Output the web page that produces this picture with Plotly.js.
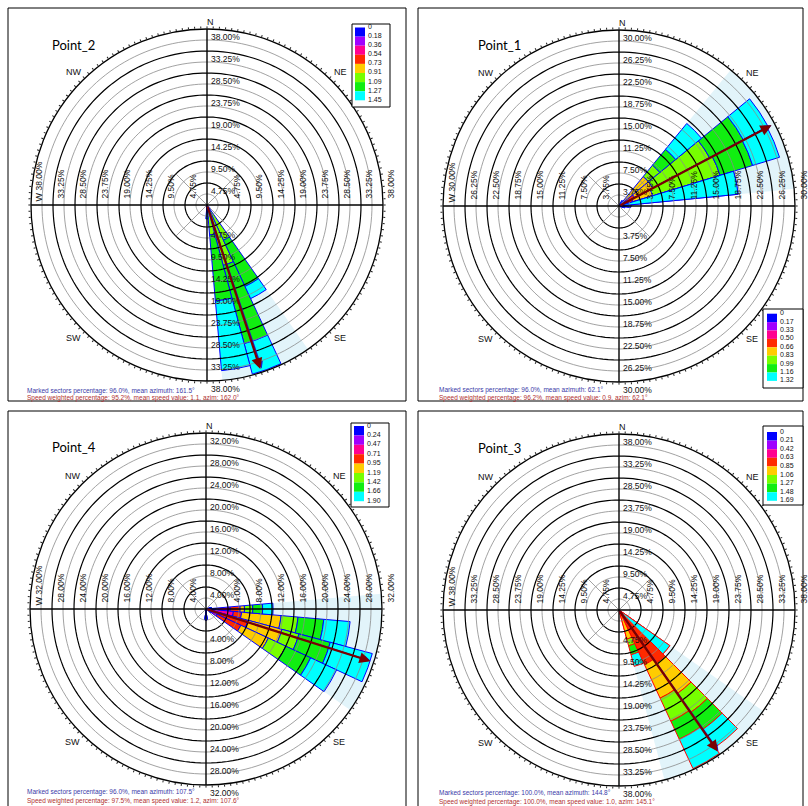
<!DOCTYPE html>
<html><head><meta charset="utf-8">
<script src="https://cdn.plot.ly/plotly-3.0.1.min.js"></script>
<style>html,body{margin:0;padding:0;background:#fff}#chart{width:808px;height:806px}</style>
</head><body><div id="chart"></div>
<script>
// ================= DATA =================
const PANEL_NAMES = ['Point_2', 'Point_1', 'Point_4', 'Point_3'];
const CLASS_COLORS = ['#0000ff', '#a000ff', '#ff0090', '#ff2a00', '#ffcc00', '#77ff00', '#11ee11', '#00ffff'];

// speed class limits (legend labels)
const breaks_P2 = ['0', '0.18', '0.36', '0.54', '0.73', '0.91', '1.09', '1.27', '1.45'];
const breaks_P1 = ['0', '0.17', '0.33', '0.50', '0.66', '0.83', '0.99', '1.16', '1.32'];
const breaks_P4 = ['0', '0.24', '0.47', '0.71', '0.95', '1.19', '1.42', '1.66', '1.90'];
const breaks_P3 = ['0', '0.21', '0.42', '0.63', '0.85', '1.06', '1.27', '1.48', '1.69'];

// radial ring ticks (%)
const rings_P2 = [4.75, 9.50, 14.25, 19.00, 23.75, 28.50, 33.25, 38.00];
const rings_P1 = [3.75, 7.50, 11.25, 15.00, 18.75, 22.50, 26.25, 30.00];
const rings_P4 = [4.00, 8.00, 12.00, 16.00, 20.00, 24.00, 28.00, 32.00];
const rings_P3 = [4.75, 9.50, 14.25, 19.00, 23.75, 28.50, 33.25, 38.00];

// sector centres (deg), width, marked sectors
const sectors_P2 = [140, 150, 160, 170, 180];
const width_P2 = 10;
const marked_P2 = [150, 160, 170];
const sectors_P1 = [33.75, 45, 56.25, 67.5, 78.75, 90, 101.25];
const width_P1 = 11.25;
const marked_P1 = [45, 56.25, 67.5, 78.75];
const sectors_P4 = [80, 90, 100, 110, 120, 130, 180];
const width_P4 = 10;
const marked_P4 = [90, 100, 110, 120];
const sectors_P3 = [130, 140, 150, 160];
const width_P3 = 10;
const marked_P3 = [130, 140, 150, 160];

// frequency (%) per speed class (rows, low -> high) per sector (columns)
const freq_P2 = [
  [0, 0, 0, 0, 0.5],
  [0, 0, 0, 0, 0],
  [0, 0, 0, 0, 0],
  [0, 0.2, 0.3, 0, 0],
  [0, 1.2, 1.2, 0.5, 0],
  [0.3, 7.0, 12.0, 6.0, 1.0],
  [0.4, 11.0, 17.5, 14.3, 1.0],
  [0.3, 2.9, 6.8, 15.1, 0.5]
];
const freq_P1 = [
  [0, 0, 0, 0, 0, 0.5, 0],
  [0, 0, 0, 0, 0, 0.5, 0],
  [0, 0, 0.3, 0.3, 0, 0, 0],
  [0.3, 1.0, 2.7, 2.2, 0.6, 0, 0.3],
  [0.7, 5.5, 3.5, 3.5, 6.0, 1.0, 0.7],
  [0, 2.5, 11.0, 12.0, 8.5, 0, 0],
  [0, 3.5, 6.5, 5.8, 5.3, 0, 0],
  [0, 5.7, 4.8, 4.8, 0, 0, 0]
];
const freq_P4 = [
  [0, 0.8, 0.5, 0.6, 0.5, 0, 1.2],
  [0, 1.0, 1.0, 0.8, 0.7, 0, 0.8],
  [0.5, 2.6, 3.5, 1.2, 1.0, 0, 0],
  [0.5, 1.8, 1.5, 5.3, 4.8, 0.5, 0],
  [0, 0.8, 7.2, 6.4, 5.5, 0.5, 0],
  [0, 1.5, 3.1, 3.2, 3.5, 0, 0],
  [0, 1.8, 4.7, 5.9, 5.0, 0, 0],
  [0, 1.9, 4.8, 7.9, 5.2, 0, 0]
];
const freq_P3 = [
  [0, 0, 0, 0.5],
  [0.5, 0.4, 0.8, 2.5],
  [0.8, 1.0, 1.5, 2.5],
  [6.5, 12.6, 10.7, 1.0],
  [0, 8.0, 8.0, 0],
  [2.9, 5.0, 5.5, 1.5],
  [2.7, 4.5, 4.3, 2.0],
  [0, 4.7, 7.0, 2.6]
];

// statistics (panel order: Point_2, Point_1, Point_4, Point_3)
const markedPct   = [96.0, 96.0, 96.0, 100.0];
const markedAz    = [161.5, 62.1, 107.5, 144.8];
const weightedPct = [95.2, 96.2, 97.5, 100.0];
const meanSpeed   = [1.1, 0.9, 1.2, 1.0];
const weightedAz  = [162.0, 62.1, 107.6, 145.1];

// ================= BUILD =================
const W = 808, H = 806;
const px = x => x / W, py = y => 1 - y / H;
const MARK_FILL = 'rgb(226,244,250)';
const LABEL_FONT = {family: 'Liberation Sans, Arial, sans-serif', size: 8.5, color: '#111'};

const panels = [
  {sectors: sectors_P2, width: width_P2, marked: marked_P2, freq: freq_P2, rings: rings_P2, breaks: breaks_P2, edge: '#0000ff',
   cx: 207, cy: 205, R: 176, box: [8, 8, 406, 401], title: [50, 45],
   lg: {x0: 352, x1: 390, y0: 24, y1: 107, sx0: 355, sx1: 365, ly0: 26.5, step: 9.1}, st: [25, 390.5, 398.5]},
  {sectors: sectors_P1, width: width_P1, marked: marked_P1, freq: freq_P1, rings: rings_P1, breaks: breaks_P1, edge: '#0000ff',
   cx: 619, cy: 206, R: 176, box: [418, 8, 803, 401], title: [476, 45],
   lg: {x0: 763, x1: 803, y0: 309, y1: 388, sx0: 767, sx1: 777, ly0: 312.7, step: 8.4}, st: [437, 389.5, 397.5]},
  {sectors: sectors_P4, width: width_P4, marked: marked_P4, freq: freq_P4, rings: rings_P4, breaks: breaks_P4, edge: '#0000ff',
   cx: 206, cy: 609, R: 176, box: [8, 411, 406, 808], title: [50, 447],
   lg: {x0: 351, x1: 389, y0: 423, y1: 507, sx0: 354, sx1: 364, ly0: 425, step: 9.4}, st: [25, 792, 801]},
  {sectors: sectors_P3, width: width_P3, marked: marked_P3, freq: freq_P3, rings: rings_P3, breaks: breaks_P3, edge: '#ff0000',
   cx: 619, cy: 610, R: 176, box: [418, 411, 803, 808], title: [476, 448],
   lg: {x0: 763, x1: 803, y0: 426, y1: 505, sx0: 767, sx1: 777, ly0: 431, step: 8.6}, st: [437, 793, 802]}
];

function circles(values) {
  const r = [], t = [];
  values.forEach(v => {
    for (let a = 0; a <= 360; a += 2) { r.push(v); t.push(a); }
    r.push(null); t.push(null);
  });
  return {r, t};
}

const traces = [];
const shapes = [];
const annotations = [];
const layout = {
  width: W, height: H, margin: {l: 0, r: 0, t: 0, b: 0},
  paper_bgcolor: '#fff', plot_bgcolor: 'rgba(0,0,0,0)', showlegend: false,
  font: {family: 'Liberation Sans, Arial, sans-serif', size: 9, color: '#000'}
};

panels.forEach((p, i) => {
  const n = i === 0 ? '' : String(i + 1);
  const sp = 'polar' + n, xa = 'x' + n, ya = 'y' + n;
  const rmax = p.rings[p.rings.length - 1];
  const step = p.rings[0];

  // marked sectors background
  const lo = Math.min(...p.marked) - p.width / 2, hi = Math.max(...p.marked) + p.width / 2;
  traces.push({type: 'barpolar', subplot: sp, theta: [(lo + hi) / 2], r: [rmax], base: [0], width: [hi - lo],
    marker: {color: MARK_FILL, line: {width: 0}}, hoverinfo: 'skip', showlegend: false});

  // stacked speed classes
  const base = p.sectors.map(() => 0);
  p.freq.forEach((row, k) => {
    traces.push({type: 'barpolar', subplot: sp, theta: p.sectors, r: row.map(v => v > 0 ? v : null),
      base: base.slice(), width: p.sectors.map(() => p.width),
      marker: {color: CLASS_COLORS[k], line: {color: p.edge, width: 1}}, hoverinfo: 'skip', showlegend: false});
    row.forEach((v, j) => { base[j] += v; });
  });

  // minor rings (mid-way) and major rings
  const minorVals = p.rings.map((v, j) => (v + (j === 0 ? 0 : p.rings[j - 1])) / 2);
  const mi = circles(minorVals), ma = circles(p.rings.slice(0, -1));
  traces.push({type: 'scatterpolar', subplot: sp, mode: 'lines', r: mi.r, theta: mi.t, connectgaps: false,
    line: {color: '#8a8a8a', width: 0.8}, hoverinfo: 'skip', showlegend: false});
  traces.push({type: 'scatterpolar', subplot: sp, mode: 'lines', r: ma.r, theta: ma.t, connectgaps: false,
    line: {color: '#000', width: 1.2}, hoverinfo: 'skip', showlegend: false});
  // diagonal spokes near the centre
  const sr = 2 * step;
  traces.push({type: 'scatterpolar', subplot: sp, mode: 'lines', connectgaps: false,
    r: [sr, 0, sr, null, sr, 0, sr], theta: [45, 45, 225, null, 135, 135, 315],
    line: {color: '#8a8a8a', width: 0.8}, hoverinfo: 'skip', showlegend: false});
  // main N-S / E-W axes
  traces.push({type: 'scatterpolar', subplot: sp, mode: 'lines', connectgaps: false,
    r: [rmax, 0, rmax, null, rmax, 0, rmax], theta: [0, 0, 180, null, 90, 90, 270],
    line: {color: '#000', width: 1.4}, hoverinfo: 'skip', showlegend: false});

  // invisible cartesian overlay used to place labels/arrows in data units
  traces.push({type: 'scatter', x: [0], y: [0], xaxis: xa, yaxis: ya, mode: 'markers',
    marker: {size: 1, opacity: 0}, hoverinfo: 'skip', showlegend: false});

  const dom = {x: [px(p.cx - p.R), px(p.cx + p.R)], y: [py(p.cy + p.R), py(p.cy - p.R)]};
  layout[sp] = {
    domain: dom, bgcolor: '#fff', barmode: 'overlay',
    radialaxis: {range: [0, rmax], visible: false},
    angularaxis: {rotation: 90, direction: 'clockwise', thetaunit: 'degrees', tickmode: 'linear', tick0: 0, dtick: 2,
      ticks: 'outside', ticklen: 2, tickwidth: 1, tickcolor: '#222', showticklabels: false, showgrid: false,
      showline: true, linecolor: '#000', linewidth: 1.3}
  };
  layout['xaxis' + n] = {domain: dom.x, range: [-rmax, rmax], visible: false, fixedrange: true, anchor: ya};
  layout['yaxis' + n] = {domain: dom.y, range: [-rmax, rmax], visible: false, fixedrange: true, anchor: xa};

  // radial labels in four directions
  p.rings.forEach((v, j) => {
    const txt = v.toFixed(2) + '%';
    const common = {xref: xa, yref: ya, text: txt, showarrow: false, font: LABEL_FONT};
    annotations.push(Object.assign({}, common, {x: 0, y: v, xanchor: 'left', yanchor: 'top', xshift: 2, yshift: -1}));
    annotations.push(Object.assign({}, common, {x: 0, y: -v, xanchor: 'left', yanchor: 'top', xshift: 2, yshift: -1}));
    annotations.push(Object.assign({}, common, {x: -v, y: 0, textangle: -90, xanchor: 'left', yanchor: 'bottom',
      xshift: 1, yshift: j === p.rings.length - 1 ? 12 : 4}));
    annotations.push(Object.assign({}, common, {x: v, y: 0, textangle: -90, xanchor: 'left', yanchor: 'bottom',
      xshift: 1, yshift: 4}));
  });
  // compass letters
  const dirFont = {family: 'Liberation Sans, Arial, sans-serif', size: 9, color: '#111'};
  annotations.push({xref: xa, yref: ya, x: 0, y: rmax, text: 'N', showarrow: false, xanchor: 'center', yanchor: 'bottom',
    xshift: 3, yshift: 0, font: dirFont});
  annotations.push({xref: xa, yref: ya, x: -rmax, y: 0, text: 'W', showarrow: false, textangle: -90,
    xanchor: 'left', yanchor: 'bottom', xshift: 1, yshift: 1, font: dirFont});
  [['NE', 45], ['SE', 135], ['SW', 225], ['NW', 315]].forEach(([lab, a]) => {
    const rr = 1.07 * rmax, ang = a * Math.PI / 180;
    annotations.push({xref: xa, yref: ya, x: rr * Math.sin(ang), y: rr * Math.cos(ang), text: lab, showarrow: false,
      xanchor: 'center', yanchor: 'middle', font: dirFont});
  });
  // mean direction arrows
  const arrow = (az, color, w) => {
    const a = az * Math.PI / 180, L = 0.98 * rmax;
    return {xref: xa, yref: ya, axref: xa, ayref: ya, x: L * Math.sin(a), y: L * Math.cos(a), ax: 0, ay: 0,
      text: '', showarrow: true, arrowhead: 2, arrowsize: 1, arrowwidth: w, arrowcolor: color, standoff: 0, startstandoff: 0};
  };
  annotations.push(arrow(markedAz[i], '#1a1acc', 1.4));
  annotations.push(arrow(weightedAz[i], '#7a0000', 2.2));

  // panel frame
  shapes.push({type: 'rect', xref: 'paper', yref: 'paper', x0: px(p.box[0]), x1: px(p.box[2]), y0: py(p.box[3]), y1: py(p.box[1]),
    line: {color: '#000', width: 1}, fillcolor: 'rgba(0,0,0,0)', layer: 'above'});
  // title
  annotations.push({xref: 'paper', yref: 'paper', x: px(p.title[0]), y: py(p.title[1]), text: PANEL_NAMES[i], showarrow: false,
    xanchor: 'left', yanchor: 'middle', font: {family: 'Lato, Carlito, sans-serif', size: 13, color: '#000'}});

  // colour legend
  const lg = p.lg;
  shapes.push({type: 'rect', xref: 'paper', yref: 'paper', x0: px(lg.x0), x1: px(lg.x1), y0: py(lg.y1), y1: py(lg.y0),
    line: {color: '#000', width: 1}, fillcolor: '#fff', layer: 'above'});
  p.breaks.forEach((b, k) => {
    const y = lg.ly0 + k * lg.step;
    if (k < CLASS_COLORS.length) {
      shapes.push({type: 'rect', xref: 'paper', yref: 'paper', x0: px(lg.sx0), x1: px(lg.sx1),
        y0: py(y + 1 + lg.step), y1: py(y + 1), line: {width: 0}, fillcolor: CLASS_COLORS[k], layer: 'above'});
    }
    annotations.push({xref: 'paper', yref: 'paper', x: px(lg.sx1 + 1), y: py(y), text: b, showarrow: false,
      xanchor: 'left', yanchor: 'middle', font: {family: 'Liberation Sans, Arial, sans-serif', size: 7, color: '#111'}});
  });

  // statistics text
  const l1 = 'Marked sectors percentage: ' + markedPct[i].toFixed(1) + '%, mean azimuth: ' + markedAz[i].toFixed(1) + '°';
  const l2 = 'Speed weighted percentage: ' + weightedPct[i].toFixed(1) + '%, mean speed value: ' + meanSpeed[i].toFixed(1) +
    ', azim: ' + weightedAz[i].toFixed(1) + '°';
  annotations.push({xref: 'paper', yref: 'paper', x: px(p.st[0]), y: py(p.st[1]), text: l1, showarrow: false,
    xanchor: 'left', yanchor: 'middle', font: {family: 'Liberation Sans, Arial, sans-serif', size: 6.5, color: '#3a3aa8'}});
  annotations.push({xref: 'paper', yref: 'paper', x: px(p.st[0]), y: py(p.st[2]), text: l2, showarrow: false,
    xanchor: 'left', yanchor: 'middle', font: {family: 'Liberation Sans, Arial, sans-serif', size: 6.5, color: '#b03030'}});
});

layout.shapes = shapes;
layout.annotations = annotations;

Plotly.newPlot('chart', traces, layout, {staticPlot: true, displayModeBar: false});
</script>
</body></html>
